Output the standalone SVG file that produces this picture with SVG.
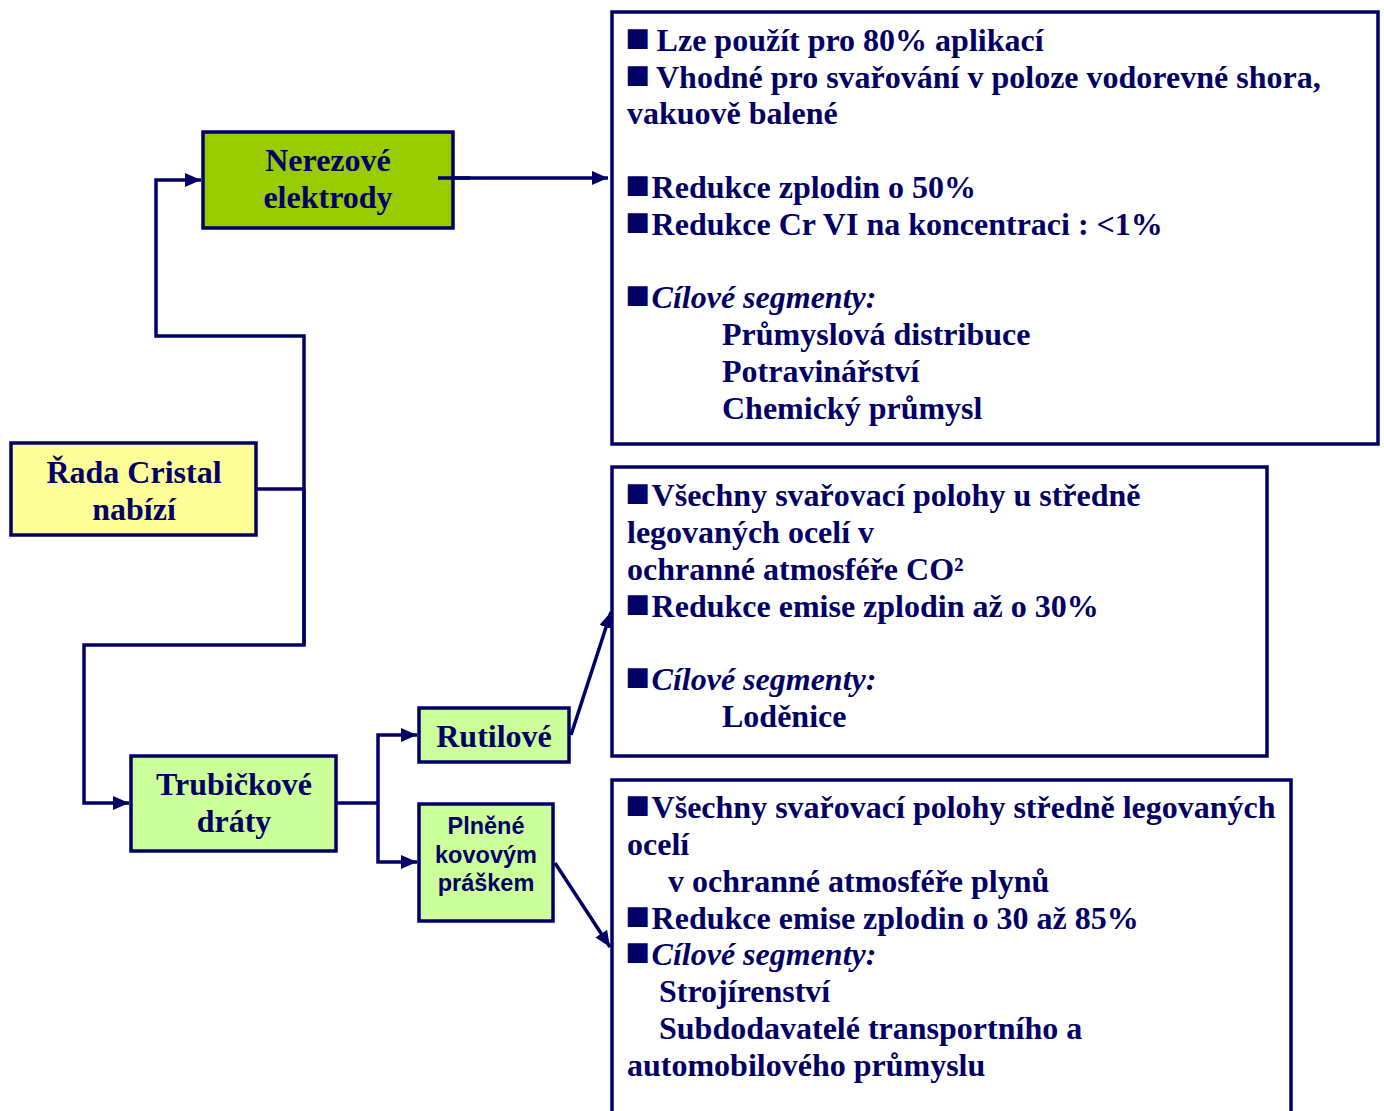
<svg xmlns="http://www.w3.org/2000/svg" width="1384" height="1111" viewBox="0 0 1384 1111">
<defs>
<marker id="arr" markerUnits="userSpaceOnUse" markerWidth="17" markerHeight="15" refX="16" refY="7" orient="auto">
<path d="M0,0 L16,7 L0,14 z" fill="#000066"/>
</marker>
<style>
.box{stroke:#000066;stroke-width:3.5}
.t{font-family:"Liberation Serif","Times New Roman",serif;font-weight:bold;font-size:32px;fill:#000066}
.c{text-anchor:middle}
.s{font-family:"Liberation Sans",Arial,sans-serif;font-weight:bold;font-size:23.5px;fill:#000066;text-anchor:middle}
.i{font-style:italic}
.b{font-family:"DejaVu Sans",sans-serif;font-weight:normal;font-size:26px}
.ln{fill:none;stroke:#000066;stroke-width:3.5}
</style>
</defs>
<rect width="1384" height="1111" fill="#ffffff"/>

<g id="connectors">
<polyline class="ln" points="256,489 304,489"/>
<polyline class="ln" points="304,645 304,336 156,336 156,180 201,180" marker-end="url(#arr)"/>
<polyline class="ln" points="304,489 304,645 84,645 84,803 129,803" marker-end="url(#arr)"/>
<polyline class="ln" points="438,178 608,178" marker-end="url(#arr)"/>
<polyline class="ln" points="336,803 378,803"/>
<polyline class="ln" points="378,803 378,735 417,735" marker-end="url(#arr)"/>
<polyline class="ln" points="378,803 378,862 417,862" marker-end="url(#arr)"/>
<polyline class="ln" points="571,735 611,612" marker-end="url(#arr)"/>
<polyline class="ln" points="555,863 610,947" marker-end="url(#arr)"/>
</g>

<g id="nerezove">
<rect class="box" x="203" y="132" width="250" height="96" fill="#99cc00"/>
<text class="t c" x="328" y="171">Nerezové</text>
<text class="t c" x="328" y="208">elektrody</text>
</g>
<polyline class="ln" points="438,178 470,178"/>

<g id="rada">
<rect class="box" x="11" y="443" width="245" height="92" fill="#ffff99"/>
<text class="t c" x="134" y="483">Řada Cristal</text>
<text class="t c" x="134" y="520">nabízí</text>
</g>

<g id="trubickove">
<rect class="box" x="131" y="756" width="205" height="95" fill="#ccff99"/>
<text class="t c" x="234" y="795">Trubičkové</text>
<text class="t c" x="234" y="832">dráty</text>
</g>

<g id="rutilove">
<rect class="box" x="419" y="708" width="150" height="54" fill="#ccff99"/>
<text class="t c" x="494" y="747">Rutilové</text>
</g>

<g id="plnene">
<rect class="box" x="419" y="804" width="134" height="117" fill="#ccff99"/>
<text class="s" x="486" y="834">Plněné</text>
<text class="s" x="486" y="863">kovovým</text>
<text class="s" x="486" y="891">práškem</text>
</g>

<g id="info-nerezove">
<rect class="box" x="612" y="12" width="766" height="432" fill="#ffffff"/>
<text class="t" x="625.5" y="51"><tspan class="b" dy="-5">■</tspan><tspan dy="5" dx="-1.5"> Lze použít pro 80% aplikací</tspan></text>
<text class="t" x="625.5" y="88"><tspan class="b" dy="-5">■</tspan><tspan dy="5" dx="-1.5"> Vhodné pro svařování v poloze vodorevné shora,</tspan></text>
<text class="t" x="627" y="124">vakuově balené</text>
<text class="t" x="625.5" y="198"><tspan class="b" dy="-5">■</tspan><tspan dy="5" dx="1.5">Redukce zplodin o 50%</tspan></text>
<text class="t" x="625.5" y="235"><tspan class="b" dy="-5">■</tspan><tspan dy="5" dx="1.5">Redukce Cr VI na koncentraci : &lt;1%</tspan></text>
<text class="t" x="625.5" y="308"><tspan class="b" dy="-5">■</tspan><tspan class="i" dy="5" dx="1.5">Cílové segmenty:</tspan></text>
<text class="t" x="722" y="345">Průmyslová distribuce</text>
<text class="t" x="722" y="382">Potravinářství</text>
<text class="t" x="722" y="419">Chemický průmysl</text>
</g>

<g id="info-rutilove">
<rect class="box" x="612" y="467" width="655" height="289" fill="#ffffff"/>
<text class="t" x="625.5" y="506"><tspan class="b" dy="-5">■</tspan><tspan dy="5" dx="1.5">Všechny svařovací polohy u středně</tspan></text>
<text class="t" x="627" y="543">legovaných ocelí v</text>
<text class="t" x="627" y="580">ochranné atmosféře CO²</text>
<text class="t" x="625.5" y="617"><tspan class="b" dy="-5">■</tspan><tspan dy="5" dx="1.5">Redukce emise zplodin až o 30%</tspan></text>
<text class="t" x="625.5" y="690"><tspan class="b" dy="-5">■</tspan><tspan class="i" dy="5" dx="1.5">Cílové segmenty:</tspan></text>
<text class="t" x="722" y="727">Loděnice</text>
</g>

<g id="info-plnene">
<rect class="box" x="612" y="780" width="679" height="360" fill="#ffffff"/>
<text class="t" x="625.5" y="818"><tspan class="b" dy="-5">■</tspan><tspan dy="5" dx="1.5">Všechny svařovací polohy středně legovaných</tspan></text>
<text class="t" x="627" y="855">ocelí</text>
<text class="t" x="668" y="892">v ochranné atmosféře plynů</text>
<text class="t" x="625.5" y="929"><tspan class="b" dy="-5">■</tspan><tspan dy="5" dx="1.5">Redukce emise zplodin o 30 až 85%</tspan></text>
<text class="t" x="625.5" y="965"><tspan class="b" dy="-5">■</tspan><tspan class="i" dy="5" dx="1.5">Cílové segmenty:</tspan></text>
<text class="t" x="659" y="1002">Strojírenství</text>
<text class="t" x="659" y="1039">Subdodavatelé transportního a</text>
<text class="t" x="627" y="1076">automobilového průmyslu</text>
</g>
</svg>
